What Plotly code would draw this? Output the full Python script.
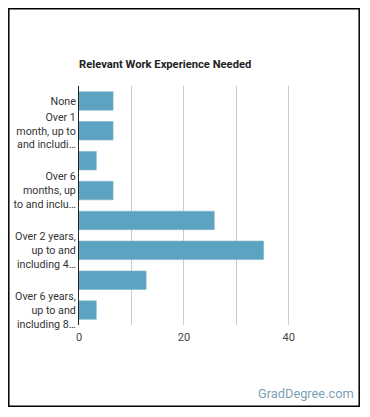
import plotly.graph_objects as go

categories = [
    "None",
    "Over 1 month, up to and including 3 months",
    "Over 3 months, up to and including 6 months",
    "Over 6 months, up to and including 1 year",
    "Over 1 year, up to and including 2 years",
    "Over 2 years, up to and including 4 years",
    "Over 4 years, up to and including 6 years",
    "Over 6 years, up to and including 8 years",
]
values = [6.5, 6.5, 3.3, 6.5, 25.8, 35.2, 12.8, 3.3]
tick_labels = [
    "None",
    "Over 1<br>month, up to<br>and includi…",
    "",
    "Over 6<br>months, up<br>to and inclu…",
    "",
    "Over 2 years,<br>up to and<br>including 4…",
    "",
    "Over 6 years,<br>up to and<br>including 8…",
]
x_ticks = [0, 20, 40]

# page body has an 8px margin; figure coordinates are page coords minus 8
OFF = 8
W, H = 352, 399
L, R, T, B = 79 - OFF, 336 - OFF, 86 - OFF, 325 - OFF

def px(x):
    return (x - OFF - L) / (R - L)

def py(y):
    return (B - (y - OFF)) / (B - T)

fig = go.Figure(go.Bar(
    x=values, y=categories, orientation="h",
    marker=dict(color="#5ca3c1", line=dict(color="#7db6cd", width=0.6)),
    hoverinfo="x+y",
))

fig.update_layout(
    width=W, height=H,
    margin=dict(l=L, r=W - R, t=T, b=H - B, autoexpand=False),
    paper_bgcolor="white", plot_bgcolor="white",
    font=dict(family="Roboto", size=11, color="#333333"),
    bargap=0.38,
    showlegend=False,
    title=dict(text="<b>Relevant Work Experience Needed</b>", xref="paper", x=0, xanchor="left",
               yref="container", y=1 - (64 - OFF) / H, yanchor="middle",
               font=dict(size=11.2, color="#222222")),
    xaxis=dict(range=[0, 49], tickvals=[0, 10, 20, 30, 40],
               ticktext=["0", "", "20", "", "40"], automargin=False,
               showgrid=True, gridcolor="#cccccc", gridwidth=1, zeroline=False,
               showline=False, ticks="", ticklabelstandoff=4,
               tickfont=dict(size=11, color="#444444"),
               fixedrange=True),
    yaxis=dict(categoryorder="array", categoryarray=categories, autorange="reversed",
               tickvals=categories, ticktext=tick_labels, showgrid=False, automargin=False,
               showline=True, linecolor="#222222", linewidth=1, ticks="",
               ticklabelstandoff=0, tickfont=dict(size=10.7, color="#333333"),
               fixedrange=True),
    shapes=[dict(type="rect", xref="paper", yref="paper",
                 x0=px(8.8), x1=px(359.2), y0=py(406.2), y1=py(8.8),
                 line=dict(color="black", width=1.5), fillcolor="rgba(0,0,0,0)")],
    annotations=[dict(text="GradDegree.com", xref="paper", yref="paper",
                      x=px(355.5), y=py(393), xanchor="right", yanchor="middle",
                      showarrow=False, font=dict(size=12.8, color="#7c9fb6"))],
)

fig.write_html("out.html", config={"displayModeBar": False})
